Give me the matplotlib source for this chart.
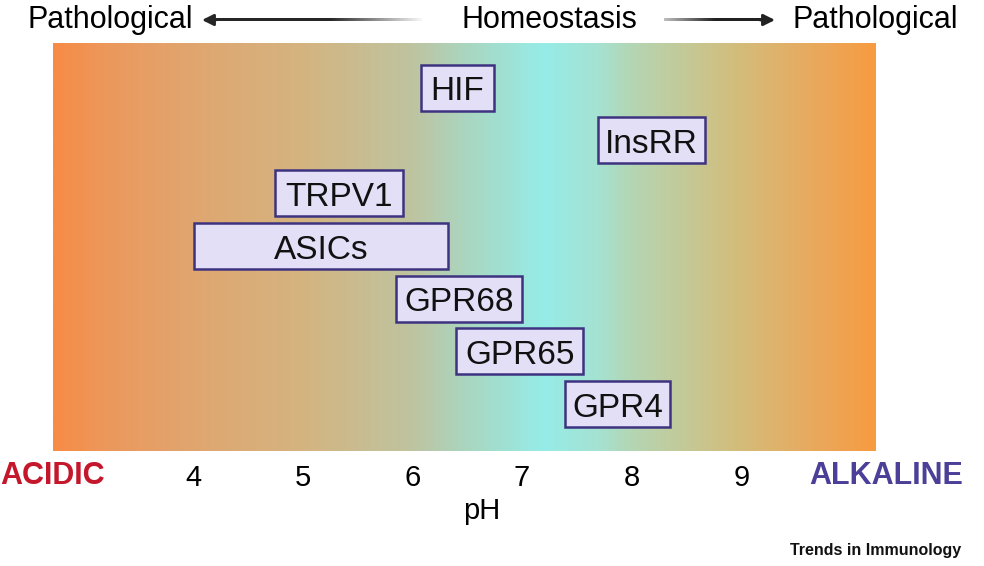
import numpy as np
import matplotlib
matplotlib.use('Agg')
import matplotlib.pyplot as plt
from matplotlib.colors import LinearSegmentedColormap
from matplotlib.patches import Rectangle

# ---------------- data ----------------
receptors = ['HIF', 'InsRR', 'TRPV1', 'ASICs', 'GPR68', 'GPR65', 'GPR4']
ph_low = [6.08, 7.69, 4.75, 4.01, 5.85, 6.40, 7.39]
ph_high = [6.74, 8.67, 5.91, 6.32, 7.00, 7.56, 8.35]
ph_ticks = [4, 5, 6, 7, 8, 9]
ph_min, ph_max = 2.72, 10.23

# background gradient stops (pH, colour)
grad_ph = [2.72, 3.2, 4.0, 5.0, 6.0, 6.5, 7.2, 7.7, 8.0, 9.0, 9.8, 10.23]
grad_rgb = [(247, 140, 70), (236, 152, 92), (224, 166, 112), (212, 180, 128),
            (190, 196, 160), (170, 214, 192), (150, 236, 232), (165, 226, 210),
            (180, 214, 180), (212, 188, 122), (236, 166, 88), (247, 155, 65)]

# ---------------- figure ----------------
plt.rcParams['font.family'] = ['Liberation Sans', 'DejaVu Sans']
fig = plt.figure(figsize=(9.84, 5.66), dpi=100)
fig.patch.set_facecolor('white')

ax = fig.add_axes([53 / 984, (566 - 451) / 566, 823 / 984, 408 / 566])
ax.set_xlim(ph_min, ph_max)
ax.set_ylim(6.89, -0.844)

pos = [(p - ph_min) / (ph_max - ph_min) for p in grad_ph]
cols = [tuple(c / 255 for c in rgb) for rgb in grad_rgb]
cmap = LinearSegmentedColormap.from_list('ph', list(zip(pos, cols)))
xs = np.linspace(ph_min, ph_max, 800)
ax.imshow(xs[None, :], extent=(ph_min, ph_max, 6.89, -0.844), aspect='auto',
          cmap=cmap, vmin=ph_min, vmax=ph_max, interpolation='bilinear', zorder=0)

box_h = 0.872
for i, (name, lo, hi) in enumerate(zip(receptors, ph_low, ph_high)):
    ax.add_patch(Rectangle((lo, i - box_h / 2), hi - lo, box_h,
                           facecolor='#E2DFF6', edgecolor='#3E3380',
                           linewidth=1.8, zorder=2))
    ax.text((lo + hi) / 2, i + 0.08, name, ha='center', va='center',
            fontsize=24, color='#111111', zorder=3)

for s in ax.spines.values():
    s.set_visible(False)
ax.set_yticks([])
ax.set_xticks(ph_ticks)
ax.set_xticklabels([str(t) for t in ph_ticks], fontsize=21)
ax.tick_params(axis='x', length=0, pad=9.5)
ax.set_xlabel('pH', fontsize=21)
ax.xaxis.set_label_coords((482 - 53) / 823, -0.113)

# ---------------- overlay (pixel coordinates) ----------------
ov = fig.add_axes([0, 0, 1, 1], facecolor='none')
ov.set_xlim(0, 984)
ov.set_ylim(566, 0)
ov.axis('off')

ov.text(28, 20, 'Pathological', fontsize=22, ha='left', va='center')
ov.text(549, 20, 'Homeostasis', fontsize=22, ha='center', va='center')
ov.text(958, 20, 'Pathological', fontsize=22, ha='right', va='center')


def shaft(x0, x1, fn):
    xx = np.linspace(x0, x1, 300)
    g = fn(xx)
    img = np.ones((1, xx.size, 4))
    img[0, :, 0] = g
    img[0, :, 1] = g
    img[0, :, 2] = g
    ov.imshow(img, extent=(x0, x1, 21.3, 18.7), aspect='auto',
              interpolation='bilinear', zorder=2)


# left arrow: dark near head, fading towards the right
shaft(210, 422, lambda x: np.clip(0.15 + (x - 330) / (422 - 330) * 0.82, 0.15, 0.97))
ov.annotate('', xy=(202, 20), xytext=(216, 20),
            arrowprops=dict(arrowstyle='-|>', color='#262626', lw=2,
                            mutation_scale=17, shrinkA=0, shrinkB=0), zorder=3)

# right arrow: light at the start, dark towards the head
shaft(664, 766, lambda x: np.clip(0.75 - (x - 664) / (715 - 664) * 0.62, 0.13, 0.9))
ov.annotate('', xy=(775, 20), xytext=(760, 20),
            arrowprops=dict(arrowstyle='-|>', color='#222222', lw=2,
                            mutation_scale=17, shrinkA=0, shrinkB=0), zorder=3)
ov.set_xlim(0, 984)
ov.set_ylim(566, 0)

ov.text(0, 476, 'ACIDIC', fontsize=22, fontweight='bold', color='#C4172C',
        ha='left', va='center')
ov.text(963, 476, 'ALKALINE', fontsize=22, fontweight='bold', color='#4B3F98',
        ha='right', va='center')

ov.text(961, 551, 'Trends in Immunology', fontsize=11.5, fontweight='bold',
        ha='right', va='center', color='#111111')

fig.savefig('out.png', dpi=100, facecolor='white')
